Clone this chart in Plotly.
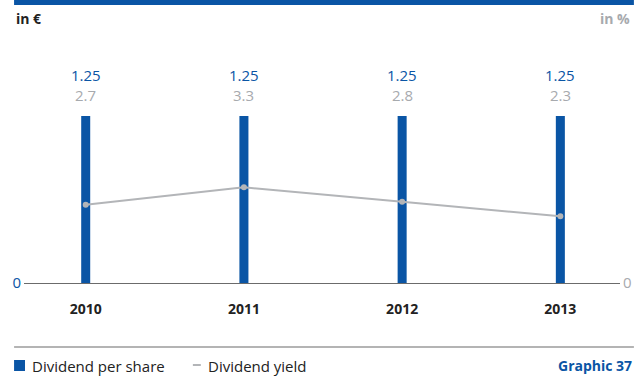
import plotly.graph_objects as go

# Dividend data
years = [2010, 2011, 2012, 2013]
dividend_per_share = [1.25, 1.25, 1.25, 1.25]   # in EUR
dividend_yield = [2.7, 3.3, 2.8, 2.3]           # in %

BLUE = "#0a55a5"
GRAY = "#b3b5b8"
GRAY_TXT = "#a7aaae"
DARK = "#222222"
FONT = "Open Sans"

W, H = 644, 376
L, R, T, B = 22, 22, 30, 93
plot_h = H - T - B

fig = go.Figure()

fig.add_trace(go.Bar(
    x=years, y=dividend_per_share, name="Dividend per share",
    marker=dict(color=BLUE, line=dict(width=0)), width=0.057,
    hoverinfo="skip", showlegend=False,
))
fig.add_trace(go.Scatter(
    x=years, y=dividend_yield, name="Dividend yield", yaxis="y2",
    mode="lines+markers", line=dict(color=GRAY, width=2),
    marker=dict(color=GRAY, size=6), hoverinfo="skip", showlegend=False,
))


def py(px):
    return (H - B - px) / plot_h


def px_x(x):
    return (x - L) / (W - L - R)


def label(x, y, text, color, size, anchor="center", xref="paper"):
    fig.add_annotation(x=x, y=py(y), xref=xref, yref="paper", xanchor=anchor,
                       yanchor="middle", text=text, showarrow=False,
                       font=dict(family=FONT, size=size, color=color))


# value labels above each bar
for yr, d, y in zip(years, dividend_per_share, dividend_yield):
    label(yr, 75, f"{d:.2f}", BLUE, 15, xref="x")
    label(yr, 95, f"{y:.1f}", GRAY_TXT, 15, xref="x")

# axis unit captions
label(px_x(12), 18, "<b>in €</b>", DARK, 14, "left")
label(px_x(634), 18, "<b>in %</b>", GRAY_TXT, 14, "right")
label(px_x(636), 366, "<b>Graphic 37</b>", BLUE, 14, "right")

# legend
fig.add_shape(type="rect", xref="paper", yref="paper",
              x0=px_x(12), x1=px_x(23), y0=py(371), y1=py(360),
              fillcolor=BLUE, line=dict(width=0))
label(px_x(28), 366, "Dividend per share", DARK, 15, "left")
fig.add_shape(type="line", xref="paper", yref="paper",
              x0=px_x(192), x1=px_x(200), y0=py(365), y1=py(365),
              line=dict(color=GRAY, width=2))
label(px_x(205), 366, "Dividend yield", DARK, 15, "left")

# header bar and footer rule
fig.add_shape(type="rect", xref="paper", yref="paper",
              x0=px_x(12), x1=px_x(636), y0=py(5), y1=py(0),
              fillcolor=BLUE, line=dict(width=0))
fig.add_shape(type="line", xref="paper", yref="paper",
              x0=px_x(12), x1=px_x(636), y0=py(347), y1=py(347),
              line=dict(color="#6b6b6b", width=1.2))

left_max = 1.25 * plot_h / 167
right_max = 0.0345 * plot_h

fig.update_layout(
    width=W, height=H, margin=dict(l=L, r=R, t=T, b=B),
    paper_bgcolor="white", plot_bgcolor="white",
    font=dict(family=FONT),
    xaxis=dict(range=[2009.61, 2013.377], tickvals=years,
               ticktext=[f"<b>{y}</b>" for y in years],
               tickfont=dict(family=FONT, size=14, color=DARK),
               showgrid=False, zeroline=False, showline=True,
               linecolor="#6b6b6b", linewidth=1.2, ticks="",
               ticklabelstandoff=13),
    yaxis=dict(range=[0, left_max], tickvals=[0], ticktext=["0"],
               tickfont=dict(family=FONT, size=15, color=BLUE),
               showgrid=False, zeroline=False, showline=False, ticks="",
               ticklabelstandoff=2),
    yaxis2=dict(range=[0, right_max], overlaying="y", side="right",
                tickvals=[0], ticktext=["0"],
                tickfont=dict(family=FONT, size=15, color=GRAY_TXT),
                showgrid=False, zeroline=False, showline=False, ticks="",
                ticklabelstandoff=2),
    showlegend=False,
)

fig.write_html("out.html")
